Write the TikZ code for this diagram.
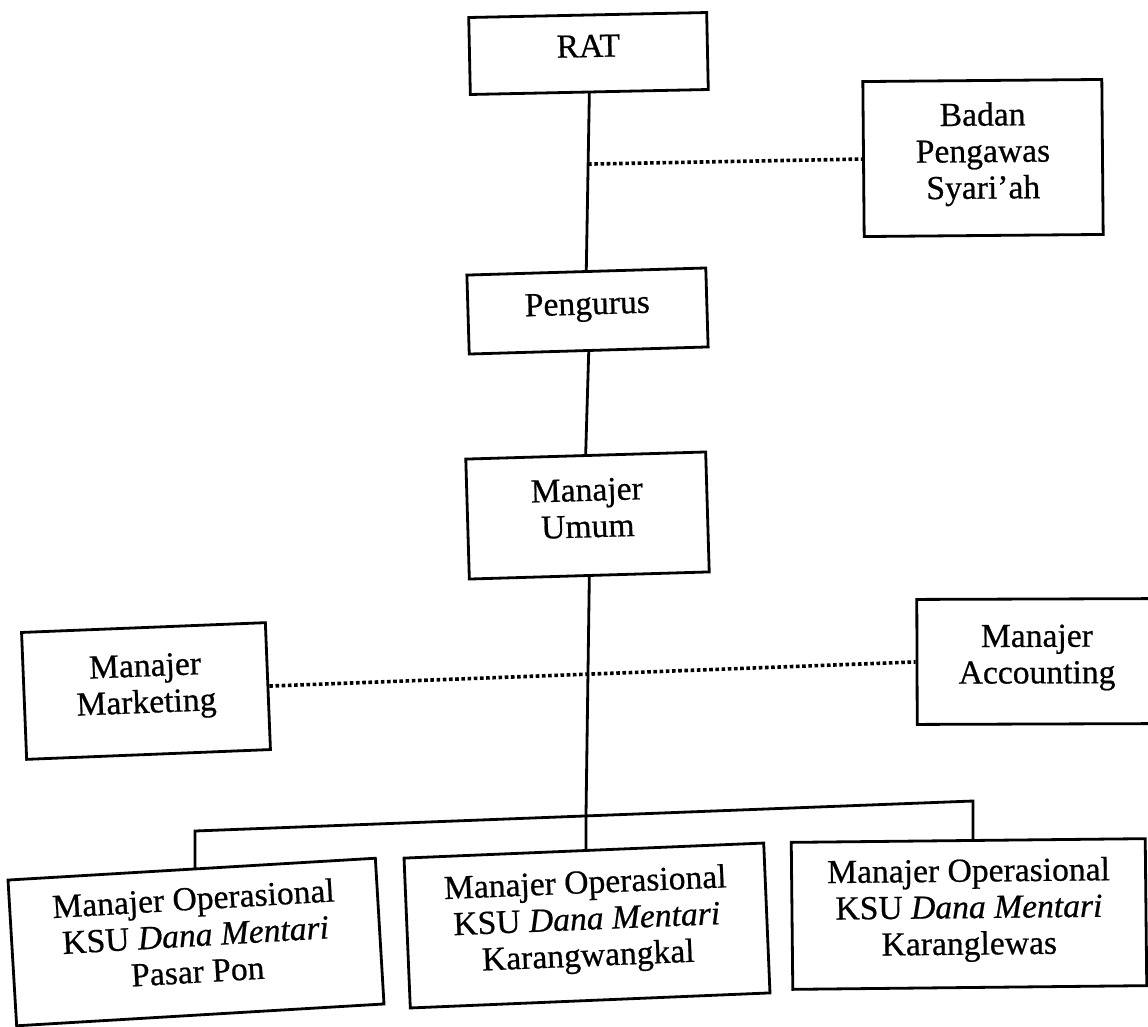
\documentclass[tikz,border=0pt]{standalone}
\usepackage{fontspec}
\setmainfont{Liberation Serif}[UprightFeatures={FakeBold=0.6},ItalicFeatures={FakeBold=0.6}]
\usetikzlibrary{calc}
\newcommand\bxlift{\rule[-15pt]{0pt}{1pt}}
\tikzset{
  orgbox/.style={draw=black, line width=2.8pt, fill=white, inner sep=0pt,
    align=center, font=\fontsize{33.6}{36.5}\selectfont},
  link/.style={line width=2.8pt, line cap=rect},
  dotlink/.style={line width=3.6pt, dash pattern=on 3.6pt off 2.6pt}
}
\begin{document}
\begin{tikzpicture}[x=1pt,y=-1pt]
\useasboundingbox[fill=white] (0,0) rectangle (1148,1026);

% boxes
\node[orgbox, minimum width=238pt, minimum height=77pt, rotate=1.2] (rat) at (588.5,53.5) {RAT\bxlift};
\node[orgbox, minimum width=239pt, minimum height=155pt, rotate=0.5] (bps) at (983,158) {Badan\\Pengawas\\Syari’ah\bxlift};
\node[orgbox, minimum width=239pt, minimum height=79pt, rotate=1.7] (peng) at (587.5,311) {Pengurus\bxlift};
\node[orgbox, minimum width=240pt, minimum height=120pt, rotate=1.7] (umum) at (587.5,515.5) {Manajer\\Umum\bxlift};
\node[orgbox, minimum width=244pt, minimum height=127pt, rotate=2.3] (mkt) at (146,691) {Manajer\\Marketing\bxlift};
\node[orgbox, minimum width=240pt, minimum height=125pt, rotate=0.2] (acc) at (1037,661.5) {Manajer\\Accounting\bxlift};
\node[orgbox, minimum width=368pt, minimum height=146pt, rotate=3.4] (opl) at (196,942) {Manajer Operasional\\KSU \textit{Dana Mentari}\\Pasar Pon\bxlift};
\node[orgbox, minimum width=360pt, minimum height=150pt, rotate=2.4] (opm) at (587,925.5) {Manajer Operasional\\KSU \textit{Dana Mentari}\\Karangwangkal\bxlift};
\node[orgbox, minimum width=354pt, minimum height=147pt, rotate=0.6] (opr) at (969,914) {Manajer Operasional\\KSU \textit{Dana Mentari}\\Karanglewas\bxlift};

% junction points
\coordinate (dA) at ($(rat.south)!0.4!(peng.north)$);
\coordinate (jl) at (195,831);
\coordinate (jr) at (973,801);
\coordinate (jm) at (586,815);

% solid connectors
\draw[link] (rat.south) -- (peng.north);
\draw[link] (peng.south) -- (umum.north);
\draw[link] (umum.south) -- (jm) -- (jm |- opm.north);
\draw[link] (jl |- opl.north) -- (jl) -- (jr) -- (jr |- opr.north);

% dotted connectors
\draw[dotlink] (dA) -- (bps.west);
\draw[dotlink] (mkt.east) -- (acc.west);
\end{tikzpicture}
\end{document}
